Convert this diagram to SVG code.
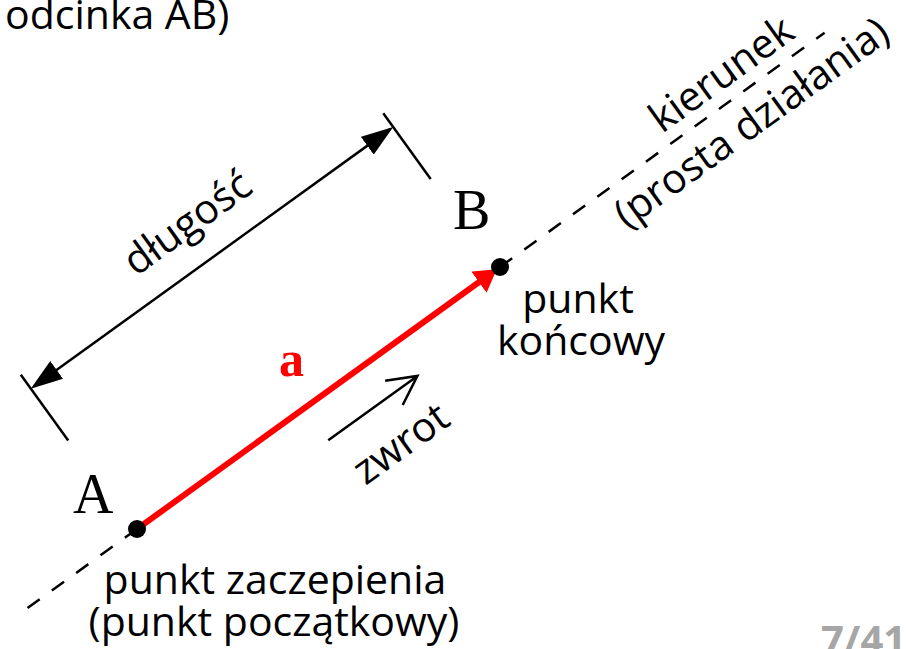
<svg xmlns="http://www.w3.org/2000/svg" width="908" height="649" viewBox="0 0 908 649">
<style>
.t{font-family:"Open Sans","Noto Sans",sans-serif;font-size:41px;fill:#000}
.c{text-anchor:middle}
.s{font-family:"Liberation Serif","Times New Roman",serif;font-size:56px;fill:#000}
.k{stroke:#000;fill:none;stroke-width:2.5}
.d{stroke:#000;fill:none;stroke-width:2.5;stroke-dasharray:15 15}
</style>
<defs>
<marker id="ah" viewBox="0 0 32 22" markerWidth="32" markerHeight="22" refX="28" refY="11" orient="auto-start-reverse" markerUnits="userSpaceOnUse">
<path d="M0,0 L32,11 L0,22 z" fill="#000"/>
</marker>
<marker id="rh" viewBox="0 0 22 26" markerWidth="22" markerHeight="26" refX="2" refY="13" orient="auto" markerUnits="userSpaceOnUse">
<path d="M0,0 L22,13 L0,26 z" fill="#f00"/>
</marker>
</defs>
<rect width="908" height="649" fill="#fff"/>
<text id="top-label" class="t" x="5" y="29">odcinka AB)</text>
<g transform="translate(137 529) rotate(-35.82)">
<g id="connectors">
<line class="d" x1="447.7" y1="0" x2="848" y2="0"/>
<line class="d" x1="0" y1="0" x2="-143" y2="0"/>
<line x1="0" y1="0" x2="423.7" y2="0" stroke="#f00" stroke-width="6" marker-end="url(#rh)"/>
<line class="k" x1="0" y1="-176" x2="439" y2="-176" marker-start="url(#ah)" marker-end="url(#ah)"/>
<line class="k" x1="-4" y1="-193" x2="-4" y2="-112"/>
<line class="k" x1="443" y1="-193" x2="443" y2="-112"/>
<path class="k" d="M207,40 L317,40 M288,25 L317,40 L288,55" stroke-width="2"/>
</g>
<g id="length-label"><text class="t c" x="220" y="-205">długość</text></g>
<g id="sense-label"><text class="t c" x="264" y="99">zwrot</text></g>
<g id="direction-label">
<text class="t c" x="740" y="-13">kierunek</text>
<text class="t c" x="736" y="44">(prosta działania)</text>
</g>
</g>
<g id="point-A">
<circle cx="137" cy="529" r="9" fill="#000"/>
<text class="s" x="73" y="513">A</text>
</g>
<g id="point-B">
<circle cx="500" cy="267" r="9" fill="#000"/>
<text class="s" x="453" y="229">B</text>
</g>
<g id="vector-label"><text x="279" y="376" font-family="Liberation Serif, serif" font-weight="bold" font-size="50" fill="#f00">a</text></g>
<g id="end-label">
<text class="t c" x="578" y="313">punkt</text>
<text class="t c" x="581" y="355">końcowy</text>
</g>
<g id="start-label">
<text class="t c" x="275" y="594">punkt zaczepienia</text>
<text class="t c" x="274" y="636">(punkt początkowy)</text>
</g>
<text id="page-number" x="821" y="654" font-family="Open Sans, sans-serif" font-weight="bold" font-size="40" fill="#a6a6a6">7/41</text>
</svg>
